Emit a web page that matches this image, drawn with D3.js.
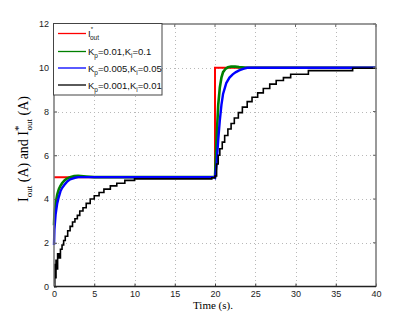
<!DOCTYPE html>
<html>
<head>
<meta charset="utf-8">
<script src="https://cdn.jsdelivr.net/npm/d3@7"></script>
<style>
  body { margin: 0; background: #fff; }
  .grid line { stroke: #b8b8b8; stroke-dasharray: 1,3; stroke-width: 1; }
</style>
</head>
<body>
<svg id="chart" width="415" height="322" font-family="Liberation Sans, Arial, sans-serif"></svg>
<script>
// reference current I*out
var refT = [0, 20, 20, 40];
var refV = [5, 5, 10, 10];

// Kp=0.01, Ki=0.1
var greenT = [0, 0.05, 0.2, 0.4, 0.6, 0.8, 1.0, 1.3, 1.6, 2.0, 2.5, 3.0, 4.0, 5, 10, 15, 19.9, 20.0, 20.2, 20.4, 20.6, 20.8, 21.0, 21.3, 21.6, 22.0, 22.5, 23.0, 24, 30, 40];
var greenV = [2.8, 3.3, 3.8, 4.2, 4.45, 4.6, 4.72, 4.85, 4.93, 5.0, 5.05, 5.06, 5.03, 5.0, 5.0, 5.0, 5.0, 5.0, 6.8, 8.3, 9.1, 9.55, 9.8, 9.95, 10.02, 10.05, 10.05, 10.03, 10.0, 10.0, 10.0];

// Kp=0.005, Ki=0.05
var blueT = [0, 0.05, 0.2, 0.4, 0.6, 0.8, 1.0, 1.3, 1.6, 2.0, 2.3, 2.6, 3, 5, 10, 15, 19.9, 20.0, 20.2, 20.4, 20.6, 20.8, 21.0, 21.4, 21.8, 22.2, 22.6, 23.0, 23.5, 24, 30, 40];
var blueV = [1.9, 2.6, 3.3, 3.8, 4.1, 4.35, 4.5, 4.65, 4.78, 4.9, 4.93, 4.97, 5.0, 5.0, 5.0, 5.0, 5.0, 4.97, 5.6, 6.7, 7.6, 8.3, 8.8, 9.3, 9.55, 9.7, 9.8, 9.88, 9.95, 10.0, 10.0, 10.0];

// Kp=0.001, Ki=0.01 (staircase)
var blackT = [0, 0.1, 0.15, 0.25, 0.3, 0.45, 0.6, 0.8, 1.0, 1.2, 1.4, 1.7, 2.0, 2.3, 2.6, 2.9, 3.2, 3.6, 4.0, 4.5, 5.0, 5.6, 6.2, 7.0, 7.8, 8.8, 10.0, 16, 19.6,
              20.0, 20.2, 20.4, 20.6, 20.9, 21.2, 21.6, 22.0, 22.4, 22.9, 23.4, 24.0, 24.6, 25.3, 26.0, 26.8, 27.6, 28.5, 29.4, 31.6, 37.1, 40];
var blackV = [0, 1.0, 0.4, 1.2, 0.8, 1.5, 1.3, 1.7, 1.9, 2.1, 2.3, 2.55, 2.75, 2.95, 3.1, 3.25, 3.45, 3.6, 3.8, 4.0, 4.15, 4.3, 4.45, 4.6, 4.72, 4.85, 4.92, 4.92, 4.97,
              5.05, 5.6, 6.0, 6.3, 6.6, 6.9, 7.2, 7.45, 7.7, 7.95, 8.2, 8.45, 8.65, 8.85, 9.05, 9.25, 9.42, 9.55, 9.7, 9.87, 9.98, 10.0];

var xTicks = [0, 5, 10, 15, 20, 25, 30, 35, 40];
var yTicks = [0, 2, 4, 6, 8, 10, 12];

var legendNames = ["ref", "Kp=0.01,Ki=0.1", "Kp=0.005,Ki=0.05", "Kp=0.001,Ki=0.01"];
var legendColors = ["#ff0000", "#008000", "#0000ff", "#000000"];

var svg = d3.select("#chart");
var pLeft = 54, pRight = 376, pTop = 24, pBottom = 286.5;
var serif = "Liberation Serif, Times New Roman, serif";

var x = d3.scaleLinear().domain([0, 40]).range([pLeft, pRight]);
var y = d3.scaleLinear().domain([0, 12]).range([pBottom, pTop]);

// grid
var grid = svg.append("g").attr("class", "grid");
grid.selectAll(".gx").data(xTicks.slice(1, -1)).enter().append("line")
    .attr("x1", function(d) { return Math.round(x(d)) + 0.5; }).attr("x2", function(d) { return Math.round(x(d)) + 0.5; })
    .attr("y1", pTop).attr("y2", pBottom);
grid.selectAll(".gy").data(yTicks.slice(1, -1)).enter().append("line")
    .attr("y1", function(d) { return Math.round(y(d)) + 0.5; }).attr("y2", function(d) { return Math.round(y(d)) + 0.5; })
    .attr("x1", pLeft).attr("x2", pRight);

function series(t, v) { return t.map(function(d, i) { return [d, v[i]]; }); }

var line = d3.line().x(function(d) { return x(d[0]); }).y(function(d) { return y(d[1]); });
var stepLine = d3.line().curve(d3.curveStepAfter).x(function(d) { return x(d[0]); }).y(function(d) { return y(d[1]); });

var plot = svg.append("g");
plot.append("path").attr("d", line(series(refT, refV))).attr("fill", "none").attr("stroke", "#ff0000").attr("stroke-width", 2);
plot.append("path").attr("d", line(series(greenT, greenV))).attr("fill", "none").attr("stroke", "#008000").attr("stroke-width", 2.6);
plot.append("path").attr("d", line(series(blueT, blueV))).attr("fill", "none").attr("stroke", "#0000ff").attr("stroke-width", 2.4);
plot.append("path").attr("d", stepLine(series(blackT, blackV))).attr("fill", "none").attr("stroke", "#000").attr("stroke-width", 1.6);

// axes
var xAxis = d3.axisBottom(x).tickValues(xTicks).tickSize(-3).tickPadding(4);
var yAxis = d3.axisLeft(y).tickValues(yTicks).tickSize(-3).tickPadding(5);

var gx = svg.append("g").attr("transform", "translate(0," + pBottom + ")").call(xAxis);
var gy = svg.append("g").attr("transform", "translate(" + pLeft + ",0)").call(yAxis);
[gx, gy].forEach(function(g) {
  g.select(".domain").remove();
  g.selectAll("line").attr("stroke", "#444");
  g.selectAll("text").attr("font-size", 9).attr("fill", "#222")
    .attr("font-family", "Liberation Sans, Arial, sans-serif");
});
// top/right ticks
svg.append("g").selectAll("line").data(xTicks).enter().append("line")
    .attr("x1", function(d) { return x(d); }).attr("x2", function(d) { return x(d); })
    .attr("y1", pTop).attr("y2", pTop + 3).attr("stroke", "#666");
svg.append("g").selectAll("line").data(yTicks).enter().append("line")
    .attr("y1", function(d) { return y(d); }).attr("y2", function(d) { return y(d); })
    .attr("x1", pRight).attr("x2", pRight - 3).attr("stroke", "#666");

// frame
svg.append("line").attr("x1", pLeft).attr("x2", pRight).attr("y1", pTop).attr("y2", pTop).attr("stroke", "#777").attr("stroke-width", 1.5);
svg.append("line").attr("x1", pRight).attr("x2", pRight).attr("y1", pTop).attr("y2", pBottom).attr("stroke", "#777").attr("stroke-width", 1.5);
svg.append("line").attr("x1", pLeft).attr("x2", pLeft).attr("y1", pTop).attr("y2", pBottom).attr("stroke", "#777").attr("stroke-width", 1.5);
svg.append("line").attr("x1", pLeft).attr("x2", pRight).attr("y1", pBottom).attr("y2", pBottom).attr("stroke", "#222").attr("stroke-width", 1.5);

// labels
svg.append("text").attr("x", 213).attr("y", 309).attr("text-anchor", "middle")
    .attr("font-family", serif).attr("font-size", 11)
    .text("Time (s).");

var yl = svg.append("text").attr("transform", "translate(28,149) rotate(-90)").attr("text-anchor", "middle")
    .attr("font-family", serif).attr("font-size", 14);
yl.append("tspan").text("I");
yl.append("tspan").attr("font-size", 9).attr("dy", 4).text("out");
yl.append("tspan").attr("dy", -4).text(" (A) and I");
yl.append("tspan").attr("font-size", 11).attr("dy", -6).text("*");
yl.append("tspan").attr("font-size", 9).attr("dx", -5).attr("dy", 10).text("out");
yl.append("tspan").attr("dy", -4).text(" (A)");

// legend
var lg = svg.append("g");
lg.append("rect").attr("x", 53.5).attr("y", 23.5).attr("width", 108.5).attr("height", 71.5)
    .attr("fill", "#fff").attr("stroke", "#444").attr("stroke-width", 1);
var rowY = [33.5, 51.5, 68, 85];
legendNames.forEach(function(name, i) {
  lg.append("line").attr("x1", 58).attr("x2", 86).attr("y1", rowY[i]).attr("y2", rowY[i])
    .attr("stroke", legendColors[i]).attr("stroke-width", 1.3);
  var t = lg.append("text").attr("x", 88).attr("y", rowY[i] + 3.5).attr("font-size", 9.5).attr("fill", "#111");
  if (i === 0) {
    t.append("tspan").text("I");
    t.append("tspan").attr("font-size", 6).attr("dy", -6).text("*");
    t.append("tspan").attr("font-size", 6.5).attr("dx", -3).attr("dy", 9).text("out");
  } else {
    var parts = name.split(",");
    t.append("tspan").text("K");
    t.append("tspan").attr("font-size", 6.5).attr("dy", 3).text("p");
    t.append("tspan").attr("dy", -3).text(parts[0].slice(2) + ",K");
    t.append("tspan").attr("font-size", 6.5).attr("dy", 3).text("i");
    t.append("tspan").attr("dy", -3).text(parts[1].slice(2));
  }
});
</script>
</body>
</html>
